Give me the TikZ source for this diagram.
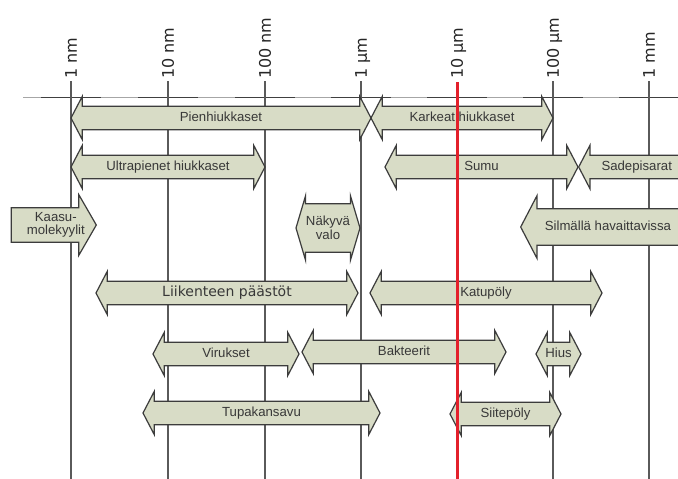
\documentclass[tikz,border=0pt]{standalone}
\usepackage{fontspec}
\setmainfont{Liberation Sans}
\newfontfamily\dejavu{DejaVu Sans}
\usetikzlibrary{shapes.arrows}
\definecolor{sizefill}{HTML}{D8DCC6}
\definecolor{sizeedge}{HTML}{3C3C3C}
\definecolor{gridgrey}{HTML}{5A5A5A}
\definecolor{myred}{HTML}{E3202B}

\tikzset{
  sizearrow/.style={draw=sizeedge, fill=sizefill, line width=1.2pt, text=black!78,
    font=\fontsize{13.2}{13.5}\selectfont, align=center, inner xsep=0pt, inner ysep=5pt},
  oneline/.style={text height=9.5pt, text depth=2.8pt},
  both/.style={sizearrow, double arrow, double arrow head extend=10pt, double arrow tip angle=125},
  toleft/.style={sizearrow, single arrow, shape border rotate=180, single arrow head extend=13pt, single arrow tip angle=125},
  toright/.style={sizearrow, single arrow, single arrow head extend=13pt, single arrow tip angle=120},
  scalelabel/.style={rotate=90, anchor=west, inner sep=0pt, text=black!85,
    font=\dejavu\fontsize{16}{16}\selectfont, text height=11.5pt, text depth=0pt}
}

\begin{document}
\begin{tikzpicture}[x=1pt, y=-1pt]
    \clip (0,0) rectangle (678,479);
    \fill[white] (0,0) rectangle (678,479);
    %% scale line with the dark dashes on it
    \draw[gray!70, line width=0.8pt] (23,97.5) -- (678,97.5);
    \foreach \gx/\glabel in {71/1 nm, 168/10 nm, 265/100 nm, 361/1 µm, 553/100 µm, 649/1 mm}{
        \draw[black!75, line width=1.6pt] (\gx-30,97.5) -- (\gx+30,97.5);
        \draw[gridgrey, line width=1.3pt] (\gx,81) -- (\gx,479);
        \node[scalelabel] (lbl\gx) at (\gx,79) {\glabel};
    }
    \draw[black!75, line width=1.6pt] (427,97.5) -- (487,97.5);
    \node[scalelabel] (lbl457) at (457,79) {10 µm};

    %% first row
    \node[both, oneline, minimum height=300] (pien) at (221,118) {Pienhiukkaset};
    \node[both, oneline, minimum height=182] (karkea) at (462,118) {Karkeat hiukkaset};
    %% second row
    \node[both, oneline, minimum height=194] (ultra) at (168,167) {Ultrapienet hiukkaset};
    \node[both, oneline, minimum height=193] (sumu) at (481.5,167) {Sumu};
    \node[toleft, oneline, single arrow head extend=10pt, minimum height=110, anchor=tip] (sade) at (578,167) {Sadepisarat};
    %% third row, two lines of text
    \node[toright, inner ysep=4pt, minimum height=85, anchor=tip] (kaasu) at (97,225) {\hspace*{14pt}Kaasu-\\\hspace*{14pt}molekyylit};
    \node[both, inner ysep=12pt, double arrow head extend=8pt, double arrow tip angle=147, minimum height=64] (valo) at (328,228) {Näkyvä\\valo};
    \node[toleft, oneline, inner ysep=11.5pt, minimum height=165, anchor=tip] (silma) at (520,227) {Silmällä havaittavissa};
    %% fourth row
    \node[both, oneline, font=\dejavu\fontsize{14}{14}\selectfont, minimum height=262] (liikenne) at (227,293) {Liikenteen päästöt};
    \node[both, oneline, minimum height=232] (katu) at (486,293) {Katupöly};
    %% fifth row
    \node[both, oneline, minimum height=146] (virus) at (226,354) {Virukset};
    \node[both, oneline, minimum height=204] (bakteeri) at (404,352) {Bakteerit};
    \node[both, oneline, minimum height=45] (hius) at (558.5,354) {Hius};
    %% sixth row
    \node[both, oneline, minimum height=237] (savu) at (261.5,413) {Tupakansavu};
    \node[both, oneline, minimum height=111] (siite) at (505.5,414) {Siitepöly};

    %% the red line goes over the arrows
    \draw[myred, line width=3pt] (457,82) -- (457,479);
\end{tikzpicture}
\end{document}
